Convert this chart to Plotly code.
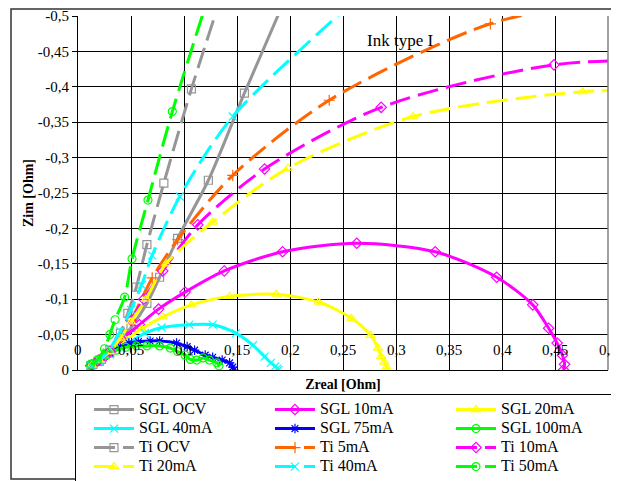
import plotly.graph_objects as go

# ---------------- data (Zreal, Zim in Ohm) ----------------
SGL_OCV_X = [0.012, 0.02, 0.03, 0.04, 0.05, 0.065, 0.077, 0.094, 0.123, 0.157, 0.2]
SGL_OCV_Y = [-0.006, -0.012, -0.024, -0.042, -0.06, -0.094, -0.131, -0.186, -0.268, -0.391, -0.54]

SGL_10_X = [0.012, 0.018, 0.026, 0.035, 0.045, 0.058, 0.076, 0.101, 0.138, 0.193, 0.263, 0.337,
            0.395, 0.429, 0.444, 0.452, 0.457, 0.459, 0.458]
SGL_10_Y = [-0.006, -0.012, -0.02, -0.032, -0.048, -0.064, -0.086, -0.110, -0.140, -0.167, -0.179,
            -0.167, -0.131, -0.092, -0.059, -0.038, -0.021, -0.008, 0.0]

SGL_20_X = [0.012, 0.018, 0.026, 0.035, 0.045, 0.06, 0.080, 0.107, 0.143, 0.187, 0.227, 0.258,
            0.276, 0.283, 0.286, 0.289, 0.291, 0.291]
SGL_20_Y = [-0.006, -0.012, -0.02, -0.03, -0.042, -0.058, -0.075, -0.092, -0.104, -0.107, -0.096,
            -0.073, -0.049, -0.031, -0.019, -0.011, -0.004, 0.0]

SGL_40_X = [0.012, 0.02, 0.03, 0.04, 0.05, 0.063, 0.079, 0.105, 0.127, 0.149, 0.165, 0.176,
            0.182, 0.186, 0.188, 0.189]
SGL_40_Y = [-0.006, -0.012, -0.022, -0.032, -0.04, -0.052, -0.060, -0.064, -0.064, -0.052, -0.035,
            -0.019, -0.010, -0.005, -0.002, 0.0]

SGL_75_X = [0.012, 0.02, 0.03, 0.04, 0.048, 0.057, 0.068, 0.077, 0.093, 0.103, 0.110, 0.120,
            0.127, 0.136, 0.143, 0.146, 0.147]
SGL_75_Y = [-0.006, -0.014, -0.024, -0.033, -0.038, -0.040, -0.041, -0.041, -0.038, -0.033, -0.028,
            -0.021, -0.018, -0.014, -0.010, -0.004, 0.0]

SGL_100_X = [0.012, 0.02, 0.028, 0.036, 0.045, 0.055, 0.065, 0.077, 0.087, 0.094, 0.101, 0.106,
             0.112, 0.118, 0.124, 0.131, 0.133]
SGL_100_Y = [-0.006, -0.014, -0.022, -0.028, -0.032, -0.034, -0.034, -0.034, -0.031, -0.026, -0.021,
             -0.015, -0.014, -0.017, -0.014, -0.010, -0.006]

TI_OCV_X = [0.014, 0.022, 0.03, 0.04, 0.047, 0.055, 0.065, 0.081, 0.107, 0.14]
TI_OCV_Y = [-0.008, -0.015, -0.028, -0.052, -0.08, -0.117, -0.177, -0.264, -0.397, -0.55]

TI_5_X = [0.013, 0.02, 0.03, 0.04, 0.05, 0.070, 0.094, 0.146, 0.237, 0.389, 0.55]
TI_5_Y = [-0.007, -0.014, -0.026, -0.045, -0.07, -0.130, -0.184, -0.275, -0.381, -0.489, -0.535]

TI_10_X = [0.013, 0.02, 0.03, 0.04, 0.05, 0.062, 0.080, 0.113, 0.176, 0.286, 0.449, 0.62]
TI_10_Y = [-0.007, -0.014, -0.026, -0.045, -0.07, -0.10, -0.140, -0.205, -0.284, -0.371, -0.431, -0.438]

TI_20_X = [0.013, 0.02, 0.03, 0.04, 0.05, 0.064, 0.083, 0.127, 0.198, 0.316, 0.476, 0.62]
TI_20_Y = [-0.007, -0.014, -0.026, -0.045, -0.068, -0.10, -0.150, -0.209, -0.285, -0.358, -0.393, -0.395]

TI_40_X = [0.012, 0.02, 0.03, 0.04, 0.05, 0.06, 0.070, 0.096, 0.146, 0.29]
TI_40_Y = [-0.007, -0.014, -0.03, -0.055, -0.085, -0.12, -0.162, -0.245, -0.358, -0.56]

TI_50_X = [0.012, 0.018, 0.025, 0.03, 0.035, 0.044, 0.051, 0.066, 0.089, 0.13]
TI_50_Y = [-0.008, -0.014, -0.03, -0.05, -0.071, -0.103, -0.157, -0.240, -0.365, -0.56]

X_TICKS = [0, 0.05, 0.1, 0.15, 0.2, 0.25, 0.3, 0.35, 0.4, 0.45, 0.5]
X_TICK_TEXT = ["0", "0,05", "0,1", "0,15", "0,2", "0,25", "0,3", "0,35", "0,4", "0,45", "0,5"]
Y_TICKS = [0, -0.05, -0.1, -0.15, -0.2, -0.25, -0.3, -0.35, -0.4, -0.45, -0.5]
Y_TICK_TEXT = ["0", "-0,05", "-0,1", "-0,15", "-0,2", "-0,25", "-0,3", "-0,35", "-0,4", "-0,45", "-0,5"]

# ---------------- styling ----------------
GREY = "#969696"
MAG = "#FF00FF"
YEL = "#FFFF00"
CYAN = "#00FFFF"
BLUE = "#0000FF"
GREEN = "#00FF00"
ORANGE = "#FF6600"
DASH = "21px,8px"
FONT = "Liberation Serif"

series = [
    ("SGL OCV", SGL_OCV_X, SGL_OCV_Y, GREY, "solid", "square-open"),
    ("SGL 10mA", SGL_10_X, SGL_10_Y, MAG, "solid", "diamond-open"),
    ("SGL 20mA", SGL_20_X, SGL_20_Y, YEL, "solid", "triangle-up-open"),
    ("SGL 40mA", SGL_40_X, SGL_40_Y, CYAN, "solid", "x-thin-open"),
    ("SGL 75mA", SGL_75_X, SGL_75_Y, BLUE, "solid", "asterisk-open"),
    ("SGL 100mA", SGL_100_X, SGL_100_Y, GREEN, "solid", "circle-open"),
    ("Ti OCV", TI_OCV_X, TI_OCV_Y, GREY, DASH, "square-open"),
    ("Ti 5mA", TI_5_X, TI_5_Y, ORANGE, DASH, "cross-thin-open"),
    ("Ti 10mA", TI_10_X, TI_10_Y, MAG, DASH, "diamond-open"),
    ("Ti 20mA", TI_20_X, TI_20_Y, YEL, DASH, "triangle-up-open"),
    ("Ti 40mA", TI_40_X, TI_40_Y, CYAN, DASH, "x-thin-open"),
    ("Ti 50mA", TI_50_X, TI_50_Y, GREEN, DASH, "circle-open"),
]

fig = go.Figure()
for name, xs, ys, col, dash, sym in series:
    fig.add_trace(go.Scatter(
        x=xs, y=ys, mode="lines+markers",
        name='<span style="font-size:16px">' + name + '</span>',
        line=dict(color=col, width=3, dash=dash, shape="spline", smoothing=0.8),
        marker=dict(symbol=sym, size=8, color=col, line=dict(color=col, width=1.2)),
    ))

# x tick labels sit just above the zero line (inside the plot), as in the original
annots = [dict(x=v, y=0, xref="x", yref="y", text=t, showarrow=False, yshift=20,
               font=dict(family=FONT, size=15, color="black"))
          for v, t in zip(X_TICKS, X_TICK_TEXT)]
annots.append(dict(x=0.304, y=-0.466, xref="x", yref="y", text="Ink type I",
                   showarrow=False, font=dict(family=FONT, size=17, color="black")))

# the page body adds an 8px offset; the margins compensate for it
fig.update_layout(
    width=640, height=473,
    margin=dict(l=70, r=40, t=8, b=111, autoexpand=False),
    paper_bgcolor="white", plot_bgcolor="white",
    font=dict(family=FONT, size=15, color="black"),
    showlegend=True,
    legend=dict(orientation="h", x=-0.0057, y=-0.068, xanchor="left", yanchor="top",
                bordercolor="black", borderwidth=1, bgcolor="white",
                font=dict(family=FONT, size=12, color="black"),
                entrywidth=113, entrywidthmode="pixels", itemwidth=40, indentation=13,
                traceorder="normal", tracegroupgap=0),
    xaxis=dict(range=[0, 0.5], tickvals=X_TICKS, showticklabels=False, automargin=False,
               ticks="",
               showgrid=True, gridcolor="black", gridwidth=1,
               showline=True, linecolor="black", linewidth=1, zeroline=False,
               title=dict(text="<b>Zreal [Ohm]</b>", font=dict(family=FONT, size=14), standoff=9)),
    yaxis=dict(range=[0, -0.5], tickvals=Y_TICKS, ticktext=Y_TICK_TEXT, automargin=False,
               tickfont=dict(family=FONT, size=15, color="black"),
               ticks="outside", ticklen=5, tickcolor="black",
               showgrid=True, gridcolor="black", gridwidth=1,
               showline=True, linecolor="black", linewidth=1, zeroline=False,
               title=dict(text="<b>Zim [Ohm]</b>", font=dict(family=FONT, size=14), standoff=0)),
    annotations=annots,
    shapes=[
        dict(type="rect", xref="paper", yref="paper", x0=-0.1264, x1=1.05, y0=-0.3079, y1=1.02,
             line=dict(color="#333333", width=1.5), fillcolor="rgba(0,0,0,0)", layer="below"),
        dict(type="line", xref="paper", yref="paper", x0=1, x1=1, y0=0, y1=1,
             line=dict(color="#808080", width=1.5)),
    ],
)

fig.write_html("out.html")
